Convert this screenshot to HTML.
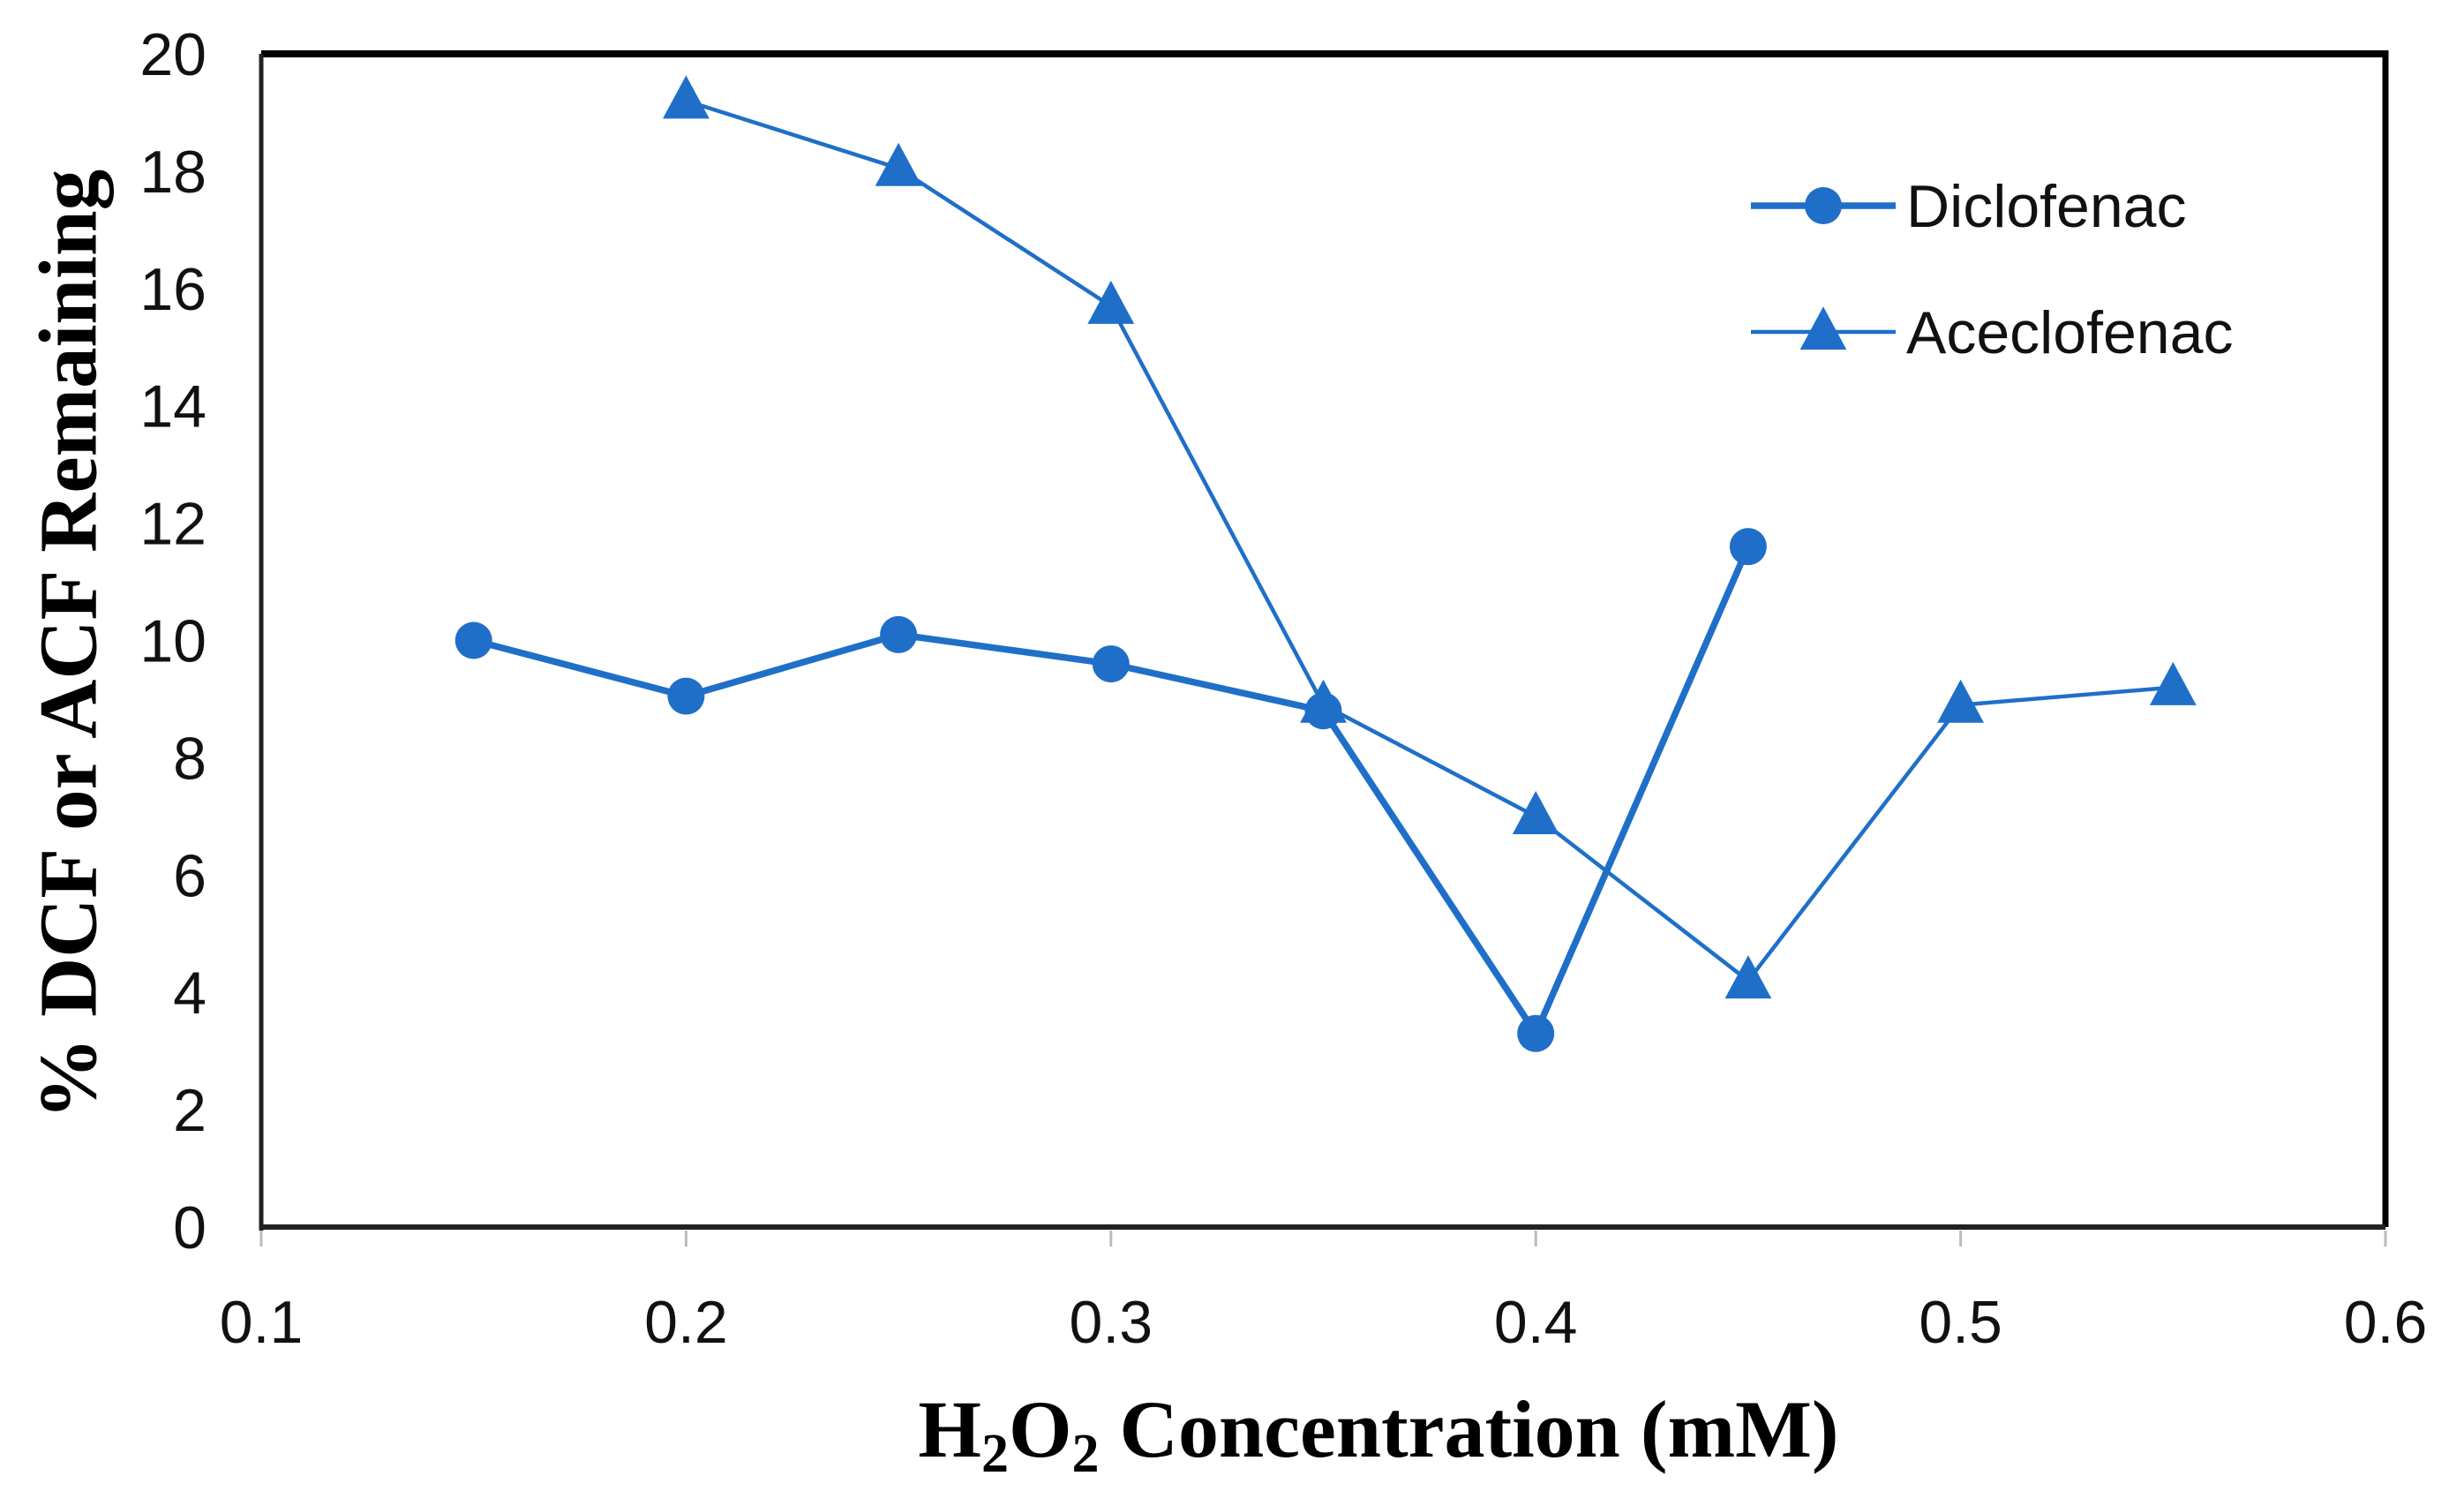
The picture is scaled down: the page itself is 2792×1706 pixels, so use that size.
<!DOCTYPE html>
<html><head><meta charset="utf-8"><style>
html,body{margin:0;padding:0;background:#fff;}
svg{display:block;}
</style></head><body>
<svg id="chart" width="2792" height="1706" xmlns="http://www.w3.org/2000/svg">
<rect x="0" y="0" width="2792" height="1706" fill="#fff"/>
<g id="plot"></g>
<text x="78" y="730" transform="rotate(-90 78 730)" text-anchor="middle" dominant-baseline="central" font-family="Liberation Serif, serif" font-weight="bold" font-size="93" fill="#000">% DCF or ACF Remaining</text>
<text x="1562" y="1650" text-anchor="middle" font-family="Liberation Serif, serif" font-weight="bold" font-size="92" fill="#000">H<tspan font-size="62" dy="17">2</tspan><tspan dy="-17">O</tspan><tspan font-size="62" dy="17">2</tspan><tspan dy="-17"> Concentration (mM)</tspan></text>
</svg>
<script>
const xTicks = [0.1, 0.2, 0.3, 0.4, 0.5, 0.6];
const yTicks = [0, 2, 4, 6, 8, 10, 12, 14, 16, 18, 20];
const dclX = [0.15, 0.2, 0.25, 0.3, 0.35, 0.4, 0.45];
const dclY = [10.0, 9.05, 10.1, 9.6, 8.8, 3.3, 11.6];
const aclX = [0.2, 0.25, 0.3, 0.35, 0.4, 0.45, 0.5, 0.55];
const aclY = [19.2, 18.05, 15.7, 8.9, 7.0, 4.2, 8.9, 9.2];

const L = 296, R = 2703, T = 61, B = 1390;
const xMin = 0.1, xMax = 0.6, yMin = 0, yMax = 20;
const sx = v => L + (v - xMin) / (xMax - xMin) * (R - L);
const sy = v => B - (v - yMin) / (yMax - yMin) * (B - T);
const NS = 'http://www.w3.org/2000/svg';
const g = document.getElementById('plot');
const C = '#1f6fc9';
function mk(tag, attrs, parent) {
  const e = document.createElementNS(NS, tag);
  for (const k in attrs) e.setAttribute(k, attrs[k]);
  (parent || g).appendChild(e);
  return e;
}
let e;
e = mk('line', {x1: L, y1: T, x2: R, y2: T, stroke: '#000', 'stroke-width': 8});


e = mk('line', {x1: R, y1: T - 4, x2: R, y2: B, stroke: '#000', 'stroke-width': 7});


e = mk('line', {x1: L, y1: T, x2: L, y2: B + 4, stroke: '#222', 'stroke-width': 5});


e = mk('line', {x1: L, y1: B, x2: R, y2: B, stroke: '#222', 'stroke-width': 6});


xTicks.forEach(v => {
  const x = sx(v);
  const t = mk('line', {x1: x, y1: B + 4, x2: x, y2: B + 22, stroke: '#bbb', 'stroke-width': 3});
  
  
  const lb = mk('text', {x: x, y: 1521, 'text-anchor': 'middle', 'font-family': 'Liberation Sans, sans-serif', 'font-size': 68, fill: '#111'});
  lb.textContent = String(v);
  
  
});
yTicks.forEach(v => {
  const lb = mk('text', {x: 234, y: sy(v) + 24, 'text-anchor': 'end', 'font-family': 'Liberation Sans, sans-serif', 'font-size': 68, fill: '#111'});
  lb.textContent = String(v);
  
  
});
function tri(x, y, s) {
  return `${x},${y - s * 0.6} ${x - s * 0.55},${y + s * 0.42} ${x + s * 0.55},${y + s * 0.42}`;
}
e = mk('polyline', {points: aclX.map((v, i) => sx(v) + ',' + sy(aclY[i])).join(' '), fill: 'none', stroke: C, 'stroke-width': 4.5, 'stroke-linejoin': 'round'});


aclX.forEach((v, i) => {
  const p = mk('polygon', {points: tri(sx(v), sy(aclY[i]), 48), fill: C});
  
  
});
e = mk('polyline', {points: dclX.map((v, i) => sx(v) + ',' + sy(dclY[i])).join(' '), fill: 'none', stroke: C, 'stroke-width': 7.5, 'stroke-linejoin': 'round'});


dclX.forEach((v, i) => {
  const c = mk('circle', {cx: sx(v), cy: sy(dclY[i]), r: 21, fill: C});
  
  
});
const lg = mk('g', {});


e = mk('line', {x1: 1984, y1: 233, x2: 2148, y2: 233, stroke: C, 'stroke-width': 7.5}, lg);


e = mk('circle', {cx: 2066, cy: 233, r: 21, fill: C}, lg);


e = mk('text', {x: 2160, y: 257, 'font-family': 'Liberation Sans, sans-serif', 'font-size': 68, fill: '#111'}, lg);
e.textContent = 'Diclofenac';


e = mk('line', {x1: 1984, y1: 376, x2: 2148, y2: 376, stroke: C, 'stroke-width': 4.5}, lg);


e = mk('polygon', {points: tri(2066, 376, 48), fill: C}, lg);


e = mk('text', {x: 2160, y: 400, 'font-family': 'Liberation Sans, sans-serif', 'font-size': 68, fill: '#111'}, lg);
e.textContent = 'Aceclofenac';


</script>
</body></html>
